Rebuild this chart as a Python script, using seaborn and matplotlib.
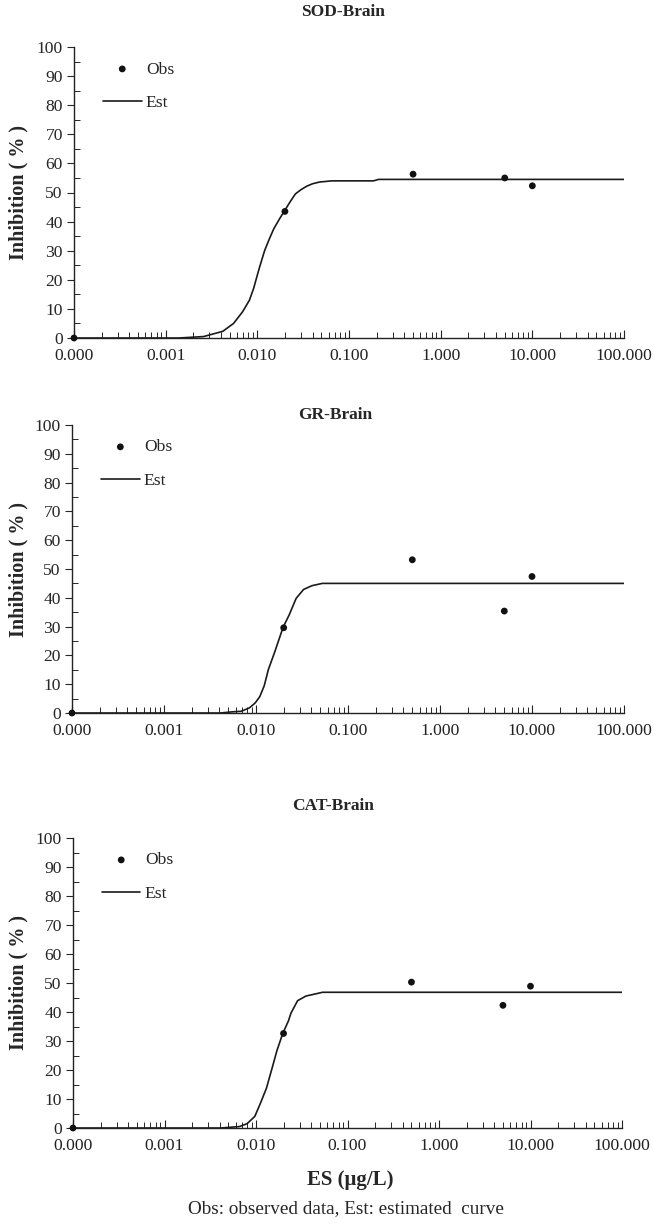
import numpy as np
import pandas as pd
import matplotlib
matplotlib.use("Agg")
import matplotlib.pyplot as plt
from matplotlib.ticker import LogLocator, MultipleLocator, NullFormatter
import seaborn as sns

# ---- data ----
panel_titles = ["SOD-Brain", "GR-Brain", "CAT-Brain"]
obs_x = [0.0001, 0.02, 0.5, 5.0, 10.0]
sod_obs = [0.0, 43.5, 56.3, 55.0, 52.3]
gr_obs = [0.0, 29.6, 53.2, 35.4, 47.4]
cat_obs = [0.0, 32.6, 50.3, 42.3, 48.9]

sod_est_x = [0.0001, 0.0014, 0.0026, 0.0042, 0.0055, 0.0069, 0.0082, 0.0091, 0.0105,
             0.012, 0.0135, 0.0151, 0.0175, 0.0196, 0.023, 0.026, 0.030, 0.0348,
             0.040, 0.0477, 0.065, 0.185, 0.21, 100.0]
sod_est_y = [0.0, 0.0, 0.5, 2.3, 5.0, 9.0, 13.0, 17.0, 24.0,
             30.0, 34.0, 37.5, 41.0, 43.5, 47.0, 49.5, 51.0, 52.2,
             53.0, 53.6, 54.0, 54.0, 54.5, 54.5]

gr_est_x = [0.0001, 0.0041, 0.0055, 0.0069, 0.0085, 0.0098, 0.011, 0.0123, 0.0136,
            0.0159, 0.0186, 0.0196, 0.0229, 0.0273, 0.0329, 0.0405, 0.0525, 100.0]
gr_est_y = [0.0, 0.0, 0.4, 0.6, 1.8, 3.5, 5.7, 9.5, 15.0,
            21.0, 27.4, 29.6, 34.0, 39.8, 42.9, 44.2, 45.0, 45.0]

cat_est_x = [0.0001, 0.0041, 0.0066, 0.0080, 0.0097, 0.0111, 0.013, 0.0151, 0.0169,
             0.0196, 0.0226, 0.0241, 0.0285, 0.0351, 0.0456, 0.0533, 100.0]
cat_est_y = [0.0, 0.0, 0.5, 1.5, 4.0, 8.3, 13.7, 21.0, 26.6,
             32.6, 36.9, 39.6, 43.9, 45.5, 46.3, 46.8, 46.8]

xtick_vals = [0.0001, 0.001, 0.01, 0.1, 1, 10, 100]
xtick_labels = ["0.000", "0.001", "0.010", "0.100", "1.000", "10.000", "100.000"]
ytick_vals = list(range(0, 101, 10))

obs_sets = [sod_obs, gr_obs, cat_obs]
est_sets = [(sod_est_x, sod_est_y), (gr_est_x, gr_est_y), (cat_est_x, cat_est_y)]

# ---- style ----
sns.set_style("ticks")
plt.rcParams["font.family"] = ["Liberation Serif", "DejaVu Serif"]

W, H = 654, 1227
fig = plt.figure(figsize=(W / 100, H / 100), dpi=100)

# axes boxes in pixels: left, right, top(y=100), bottom(y=0)
boxes = [(74, 624, 47, 338), (72, 624, 425, 713), (73, 622, 838, 1128)]
title_pos = [(343, 12), (335, 415), (333, 806)]
TICK_FS = 12.6

for i, (l, r, t, b) in enumerate(boxes):
    ax = fig.add_axes([l / W, 1 - b / H, (r - l) / W, (b - t) / H])
    ex, ey = est_sets[i]
    est_df = pd.DataFrame({"x": ex, "y": ey})
    obs_df = pd.DataFrame({"x": obs_x, "y": obs_sets[i]})
    sns.lineplot(data=est_df, x="x", y="y", ax=ax, color="#1a1a1a", lw=1.2,
                 estimator=None, sort=False, label="Est")
    sns.scatterplot(data=obs_df, x="x", y="y", ax=ax, color="#111111", s=24,
                    edgecolor="none", label="Obs", clip_on=False, zorder=5)
    ax.set_xscale("log")
    ax.set_xlim(1e-4, 100)
    ax.set_ylim(0, 100)
    ax.set_xticks(xtick_vals, xtick_labels)
    ax.xaxis.set_minor_locator(LogLocator(base=10, subs=np.arange(2, 10)))
    ax.xaxis.set_minor_formatter(NullFormatter())
    ax.set_yticks(ytick_vals)
    ax.yaxis.set_minor_locator(MultipleLocator(5))
    ax.tick_params(axis="x", which="major", direction="in", length=6, width=0.8,
                   labelsize=TICK_FS, pad=7, colors="#222222")
    ax.tick_params(axis="x", which="minor", direction="in", length=4, width=0.7)
    ax.tick_params(axis="y", which="major", direction="out", length=5, width=0.8,
                   labelsize=TICK_FS, pad=3)
    ax.tick_params(axis="y", which="minor", direction="in", length=4, width=0.7)
    for sp in ["top", "right"]:
        ax.spines[sp].set_visible(False)
    for sp in ["left", "bottom"]:
        ax.spines[sp].set_linewidth(1.0)
        ax.spines[sp].set_color("#222222")
    ax.set_xlabel("")
    ax.set_ylabel("")
    handles, labels = ax.get_legend_handles_labels()
    order = [labels.index("Obs"), labels.index("Est")]
    ax.legend([handles[j] for j in order], [labels[j] for j in order],
              loc="upper left", bbox_to_anchor=(0.04, 0.975), frameon=False,
              fontsize=TICK_FS, handlelength=2.2, handletextpad=0.25,
              labelspacing=1.0, borderaxespad=0)
    tx, ty = title_pos[i]
    fig.text(tx / W, 1 - ty / H, panel_titles[i], ha="center", va="center",
             fontsize=12.5, fontweight="bold")
    fig.text(18 / W, 1 - ((t + b) / 2) / H, "Inhibition ( % )", rotation=90,
             ha="center", va="center", fontsize=14.5, fontweight="bold")

fig.text(350 / W, 1 - 1180 / H, "ES (\u03bcg/L)", ha="center", va="center",
         fontsize=15, fontweight="bold")
fig.text(346 / W, 1 - 1209 / H, "Obs: observed data, Est: estimated  curve",
         ha="center", va="center", fontsize=13.8)

fig.savefig("out.png", dpi=100)
